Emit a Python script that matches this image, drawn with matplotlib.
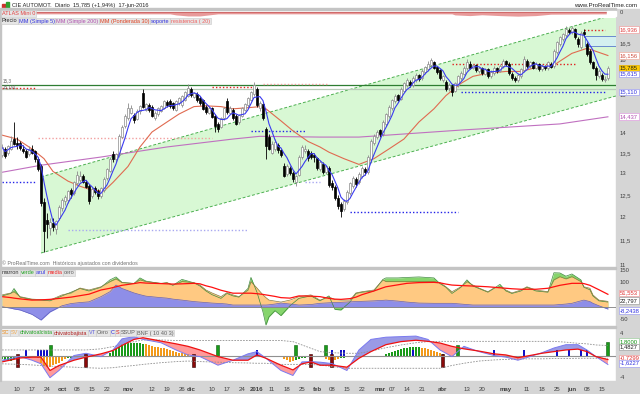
import numpy as np
import pandas as pd
import matplotlib
matplotlib.use('Agg')
import matplotlib.pyplot as plt
from matplotlib.patches import Rectangle
import matplotlib.transforms as mtransforms

plt.rcParams['font.family'] = ['Liberation Sans', 'DejaVu Sans']

# ---------------- data ----------------
holidays = ['2015-12-25', '2016-01-01', '2016-03-25', '2016-03-28']
dates = pd.bdate_range('2015-09-03', '2016-06-17')
dates = dates[~dates.isin(pd.to_datetime(holidays))]

opens = [13.47,13.60,13.50,13.62,13.85,13.76,13.75,13.62,13.56,13.48,13.62,13.55,13.35,13.20,12.35,11.95,11.78,11.88,11.76,12.00,
         12.22,12.38,12.40,12.62,12.56,12.78,12.86,12.96,12.80,12.72,12.48,12.66,12.60,12.48,12.62,12.90,13.08,13.48,13.36,13.45,
         13.92,14.20,14.40,14.55,14.48,14.38,14.58,15.07,14.62,14.75,14.70,14.40,14.50,14.60,14.68,14.84,14.86,14.80,14.62,14.80,
         14.74,14.90,15.00,15.20,14.98,15.05,14.95,14.88,14.70,14.55,14.66,14.45,14.25,14.18,14.40,14.87,14.55,14.62,14.46,14.30,
         14.45,14.62,14.75,14.90,15.05,15.20,14.68,14.78,14.12,13.92,13.52,13.62,13.70,13.58,13.20,13.00,13.15,13.02,12.82,12.98,
         13.40,13.55,13.55,13.50,13.45,13.38,13.12,13.25,13.05,13.15,12.78,12.70,12.45,12.30,12.20,12.35,12.55,12.72,12.88,12.80,
         12.95,13.12,13.05,13.35,13.75,13.90,14.08,14.00,14.25,14.45,14.68,14.85,15.02,14.92,15.15,15.30,15.40,15.30,15.45,15.58,
         15.50,15.68,15.75,15.88,15.95,15.82,15.72,15.45,15.40,15.22,15.28,15.15,15.30,15.50,15.62,15.78,15.92,15.80,15.88,15.70,
         15.78,15.62,15.75,15.55,15.65,15.78,15.70,15.85,15.98,15.92,15.62,15.50,15.45,15.55,15.72,16.00,15.85,15.95,15.80,15.90,
         15.75,15.85,15.78,15.92,15.85,16.25,16.50,16.65,16.78,16.92,16.88,16.95,16.65,16.40,16.88,16.50,16.30,15.95,15.80,15.55,
         15.60,15.45,15.50]
highs = [13.73,13.66,13.72,13.94,14.29,13.90,13.80,13.70,13.62,13.68,13.70,13.58,13.40,13.25,12.45,12.10,11.98,12.00,11.95,12.28,
         12.45,12.50,12.62,12.68,12.84,13.06,13.08,13.00,12.86,12.76,12.70,12.72,12.64,12.70,12.92,13.15,13.40,13.55,13.52,13.98,
         14.22,14.50,14.80,14.75,14.55,14.64,14.76,15.18,14.82,14.80,14.74,14.60,14.70,14.76,14.90,14.90,14.92,14.84,14.88,14.98,
         15.04,15.14,15.32,15.26,15.12,15.10,15.00,14.92,14.76,14.72,14.70,14.50,14.30,14.44,14.70,14.95,14.72,14.66,14.50,14.52,
         14.70,14.82,14.98,15.14,15.38,15.26,14.86,14.82,14.18,13.98,13.80,13.86,13.76,13.62,13.26,13.25,13.20,13.06,12.98,13.45,
         13.70,13.72,13.60,13.55,13.50,13.42,13.34,13.30,13.22,13.20,12.85,12.74,12.50,12.34,12.42,12.62,12.82,12.95,12.92,13.04,
         13.20,13.16,13.45,13.85,14.00,14.10,14.12,14.35,14.55,14.75,14.92,15.05,15.06,15.25,15.40,15.50,15.45,15.55,15.65,15.62,
         15.75,15.86,16.00,16.08,16.00,15.86,15.75,15.60,15.45,15.35,15.32,15.40,15.60,15.70,15.85,16.05,15.98,15.92,15.92,15.82,
         15.82,15.80,15.78,15.72,15.85,15.82,15.90,16.05,16.02,15.95,15.66,15.55,15.65,15.80,16.15,16.05,16.00,15.98,15.96,15.94,
         15.90,15.88,16.00,15.96,16.35,16.60,16.75,16.85,17.05,16.98,17.05,16.98,16.70,16.90,16.95,16.55,16.35,16.00,15.85,15.75,
         15.65,15.55,15.85]
lows = [13.42,13.38,13.45,13.58,13.70,13.62,13.58,13.50,13.38,13.44,13.48,13.30,13.08,12.25,11.27,11.55,11.62,11.70,11.65,11.95,
        12.15,12.28,12.32,12.45,12.50,12.74,12.80,12.78,12.66,12.30,12.44,12.52,12.42,12.45,12.58,12.86,13.05,13.30,13.30,13.42,
        13.88,14.15,14.36,14.50,14.28,14.34,14.52,14.66,14.58,14.56,14.42,14.36,14.45,14.56,14.64,14.70,14.68,14.62,14.58,14.76,
        14.70,14.86,14.96,14.98,14.94,14.84,14.76,14.62,14.52,14.50,14.40,14.05,14.05,14.14,14.36,14.52,14.50,14.36,14.22,14.26,
        14.42,14.58,14.70,14.86,15.00,14.70,14.60,14.36,13.35,13.58,13.48,13.56,13.52,13.42,12.92,12.96,12.98,12.82,12.72,12.95,
        13.36,13.50,13.32,13.36,13.30,13.10,13.08,13.00,13.00,12.70,12.62,12.40,12.20,12.02,12.15,12.30,12.50,12.68,12.70,12.76,
        12.90,12.98,13.00,13.30,13.70,13.85,13.92,13.95,14.20,14.40,14.62,14.80,14.85,14.88,15.10,15.25,15.25,15.26,15.40,15.42,
        15.45,15.62,15.70,15.82,15.75,15.62,15.45,15.40,15.15,15.15,15.00,15.10,15.26,15.45,15.58,15.72,15.75,15.75,15.68,15.65,
        15.60,15.58,15.50,15.50,15.60,15.65,15.66,15.80,15.85,15.60,15.45,15.38,15.40,15.50,15.68,15.80,15.80,15.75,15.75,15.70,
        15.70,15.72,15.74,15.78,15.80,16.20,16.45,16.60,16.72,16.80,16.82,16.65,16.40,16.35,16.72,16.15,15.90,15.75,15.45,15.50,
        15.42,15.40,15.45]
closes = [13.65,13.44,13.68,13.81,13.74,13.70,13.64,13.55,13.42,13.62,13.52,13.35,13.13,12.33,11.70,11.85,11.90,11.80,11.92,12.24,
          12.40,12.46,12.59,12.52,12.80,12.98,12.96,12.82,12.70,12.36,12.65,12.57,12.48,12.66,12.88,13.11,13.36,13.36,13.48,13.95,
          14.18,14.46,14.66,14.68,14.34,14.60,14.72,14.70,14.78,14.62,14.46,14.55,14.66,14.72,14.85,14.74,14.72,14.66,14.85,14.95,
          15.01,15.10,15.22,15.02,15.08,14.88,14.80,14.65,14.56,14.68,14.44,14.20,14.12,14.40,14.66,14.57,14.68,14.40,14.26,14.48,
          14.66,14.78,14.94,15.10,15.30,14.75,14.82,14.40,13.68,13.62,13.74,13.78,13.58,13.46,12.95,13.20,13.02,12.88,12.94,13.40,
          13.65,13.62,13.38,13.42,13.40,13.14,13.28,13.05,13.18,12.75,12.70,12.45,12.25,12.15,12.38,12.58,12.78,12.90,12.76,13.00,
          13.15,13.05,13.40,13.80,13.95,14.05,13.98,14.30,14.50,14.70,14.88,15.00,14.90,15.20,15.35,15.45,15.30,15.50,15.60,15.48,
          15.70,15.82,15.90,16.02,15.80,15.68,15.50,15.55,15.20,15.30,15.10,15.35,15.55,15.65,15.80,15.95,15.80,15.88,15.72,15.78,
          15.65,15.75,15.55,15.68,15.80,15.70,15.85,16.00,15.90,15.65,15.50,15.45,15.60,15.75,16.05,15.85,15.95,15.80,15.92,15.75,
          15.85,15.78,15.95,15.82,16.30,16.55,16.70,16.80,16.95,16.88,16.98,16.70,16.50,16.85,16.80,16.20,15.95,15.80,15.60,15.70,
          15.48,15.485,15.785]

# weighted MA 30 (red) and simple MA 200 (purple)
wma_idx = [0, 5, 10, 14, 17, 22, 26, 30, 34, 37, 42, 46, 50, 55, 59, 64, 68, 73, 77, 82, 86, 88, 93, 97, 102, 106,
           109, 114, 119, 124, 129, 134, 139, 144, 148, 153, 157, 162, 168, 173, 177, 184, 186, 190, 195, 198, 202]
wma_val = [13.96, 13.86, 13.61, 13.37, 13.06, 12.83, 12.71, 12.62, 12.60, 12.80, 13.18, 13.66, 14.04, 14.30, 14.51,
           14.71, 14.73, 14.71, 14.65, 14.68, 14.71, 14.65, 14.33, 14.07, 13.80, 13.66, 13.53, 13.37, 13.23, 13.37,
           13.61, 13.86, 14.30, 14.65, 15.01, 15.35, 15.55, 15.64, 15.69, 15.69, 15.78, 15.87, 15.99, 16.22, 16.37,
           16.28, 16.156]
ma200_idx = [0, 13, 33, 55, 77, 86, 106, 119, 153, 186, 202]
ma200_val = [13.04, 13.21, 13.41, 13.66, 13.86, 13.93, 13.91, 13.91, 14.09, 14.25, 14.437]

# channel (start/end index, price)
chan_x = [13, 204.7]
chan_up = [12.93, 17.43]
chan_lo = [11.245, 15.00]

# support / resistance segments: (start idx, end idx, level)
res_lines = [(0, 11, 15.22, 'r'), (12, 70, 13.88, 'p'), (70, 84, 15.25, 'r'), (87, 109, 15.33, 'p'),
             (150, 191, 15.92, 'r'), (194, 201, 16.936, 'r')]
sup_lines = [(0, 11, 12.80, 'b'), (22, 82, 11.72, 'l'), (83, 101, 14.07, 'b'), (101, 106, 12.80, 'l'),
             (116, 152, 12.13, 'b'), (153, 201, 15.11, 'b')]

# panel 2
p2_idx = [0, 3, 4, 6, 10, 13, 16, 20, 23, 26, 29, 33, 36, 38, 40, 44, 46, 48, 53, 55, 57, 60, 64, 66, 68, 70, 73, 75,
          77, 79, 82, 83, 85, 87, 88, 89, 91, 93, 96, 99, 103, 106, 109, 111, 113, 116, 118, 120, 124, 127, 128, 132,
          135, 139, 144, 146, 148, 150, 153, 155, 157, 159, 162, 164, 166, 168, 170, 173, 175, 178, 182, 184, 186, 188,
          190, 193, 194, 196, 197, 199, 202]
p2_marron = [49, 57, 62, 42, 32, 30, 28, 49, 57, 77, 69, 82, 103, 114, 99, 96, 110, 103, 96, 99, 89, 103, 99, 89, 69,
             57, 42, 58, 49, 42, 69, 103, 77, 49, 38, 28, 24, 20, 28, 42, 49, 28, 41, 30, 28, 28, 57, 62, 69, 110, 103,
             103, 103, 103, 103, 99, 82, 62, 82, 103, 89, 77, 62, 77, 82, 69, 57, 69, 82, 69, 62, 110, 123, 114, 123,
             103, 82, 76, 49, 28, 22.8]
p2_verde = [45, 55, 75, 40, 30, 28, 25, 45, 60, 75, 65, 80, 110, 122, 100, 95, 118, 105, 95, 98, 88, 112, 98, 85, 65,
            50, 35, 55, 45, 40, 75, 120, 60, -20, -73, -40, -15, -35, 5, 35, 45, 25, 45, -10, -12, 20, 55, 60, 65, 112,
            118, 118, 120, 122, 118, 95, 80, 55, 80, 110, 85, 75, 60, 75, 92, 65, 55, 65, 80, 65, 60, 139, 138, 125,
            134, 110, 80, 70, 45, 25, 20]
p2_azul = [1, -5, -8, -12, -30, -53, -20, 5, 14, 18, 21, 42, 62, 89, 75, 57, 50, 44, 38, 36, 32, 28, 22, 20, 18, 16,
           14, 12, 8, 8, 8, 8, 8, 8, 8, 9, 12, 16, 12, 8, 10, 15, 17, 18, 19, 21, 22, 23, 25, 27, 28, 24, 20, 16, 15,
           15, 15, 15, 12, 10, 8, 8, 8, 8, 8, 8, 8, 8, 8, 8, 8, 8, 10, 12, 15, 25, 28, 22, 15, 5, -8.24]
p2_media = [42, 38, 36, 33, 28, 29, 31, 36, 40, 46, 52, 69, 76, 82, 88, 95, 99, 97, 95, 94, 93, 94, 96, 94, 86, 80,
            68, 62, 56, 56, 56, 56, 54, 51, 49, 47, 43, 38, 36, 45, 44, 42, 35, 32, 31, 34, 40, 50, 65, 78, 82, 90, 96,
            99, 100, 98, 93, 89, 87, 86, 85, 84, 82, 80, 78, 76, 74, 72, 72, 72, 76, 82, 88, 92, 96, 96, 95, 88, 82,
            70, 51.55]

# panel 3
p3_idx = [0, 6, 10, 13, 16, 19, 24, 28, 33, 37, 40, 44, 47, 53, 58, 62, 66, 72, 77, 82, 85, 88, 93, 97, 100, 103, 106,
          110, 115, 119, 123, 128, 133, 138, 142, 146, 150, 154, 159, 164, 168, 172, 176, 180, 184, 188, 192, 195,
          198, 202]
p3_red = [-1.15, -0.45, -0.3, -0.3, -2.7, -1.8, -0.85, -0.3, 0.3, 0.9, 1.8, 2.9, 3.2, 2.6, 2.1, 1.65, 1.0, -0.2,
          -0.85, -0.85, 0.1, -0.5, -1.75, -2.6, -1.5, -1.15, -1.75, -1.75, -2.1, -0.5, 0.7, 1.95, 2.5, 2.75, 2.55,
          2.25, 1.65, 1.2, 0.8, 0.3, 0.1, -0.4, 0.0, 0.4, 0.7, 1.0, 1.15, 0.7, -0.2, -0.73]
p3_vt = [-0.85, -0.2, -0.85, -1.5, -4.0, -2.7, 0.0, 0.4, -0.2, 1.0, 3.0, 3.4, 2.9, 2.3, 1.0, 0.1, -0.2, -1.75, -0.85,
         0.3, 0.7, -0.5, -2.7, -3.6, -1.15, -1.1, -1.2, -1.45, -2.7, 1.0, 2.9, 3.3, 3.4, 3.5, 2.9, 1.0, -0.2, 1.65,
         0.7, 0.0, -0.3, -0.85, -0.2, 0.5, 1.35, 1.95, 1.95, 1.0, -0.2, -1.62]
p3_up = [1.0, 1.0, 1.0, 1.0, 1.0, 1.0, 1.0, 1.0, 1.2, 1.6, 2.0, 2.5, 2.8, 2.8, 2.7, 2.7, 2.7, 2.7, 2.7, 2.7, 2.7, 2.7,
         2.7, 2.5, 1.9, 1.3, 0.7, 0.5, 0.4, 0.4, 0.8, 1.4, 1.9, 2.3, 2.5, 2.55, 2.55, 2.55, 2.55, 2.55, 2.55, 2.55,
         2.55, 2.55, 2.55, 2.4, 2.2, 2.1, 1.9, 1.8]
p3_lo = [-1.5, -1.6, -1.7, -1.8, -1.9, -2.0, -2.1, -2.2, -2.3, -2.2, -2.0, -1.8, -1.6, -1.3, -1.1, -1.0, -1.1, -1.2,
         -1.3, -1.35, -1.4, -1.4, -1.6, -1.6, -1.6, -1.65, -1.7, -2.0, -2.3, -2.3, -2.3, -2.3, -2.3, -2.3, -2.3, -2.3,
         -1.8, -1.4, -1.0, -0.8, -0.7, -0.65, -0.6, -0.6, -0.55, -0.55, -0.5, -0.5, -0.5, -0.5]
hist_idx = [0, 1, 2, 3, 4, 12, 13, 14, 15, 16, 17, 18, 19, 20, 21, 22, 23,
            36, 37, 38, 39, 40, 41, 42, 43, 44, 45, 46, 47, 48, 49, 50, 51, 52, 53, 54, 55, 56, 57, 58, 59, 60, 61, 62,
            93, 94, 95, 96, 97, 98, 99, 100, 101, 102, 107, 108, 109, 110, 111, 112, 113, 114, 115,
            128, 129, 130, 131, 132, 133, 134, 135, 136, 137, 138, 139, 140, 141, 142, 143, 144, 145, 146, 147]
hist_val = [-0.6, -0.9, -0.8, -1.0, -0.7, -0.5, -1.3, -1.9, -2.1, -2.0, -1.8, -1.6, -1.3, -1.0, -0.7, -0.5, -0.4,
            0.4, 0.8, 1.2, 1.6, 1.9, 2.1, 2.2, 2.3, 2.3, 2.2, 2.3, 2.0, 2.0, 1.9, 1.8, 1.6, 1.5, 1.4, 1.3, 1.1, 1.0,
            0.8, 0.7, 0.5, 0.4, 0.3, 0.2,
            -0.3, -0.6, -0.9, -1.1, -1.0, -0.8, -0.6, -0.5, -0.4, -0.3, -0.3, -0.6, -0.8, -0.9, -0.9, -0.7, -0.5, -0.4,
            -0.3, 0.2, 0.4, 0.6, 0.8, 1.0, 1.2, 1.3, 1.4, 1.5, 1.5, 1.5, 1.5, 1.4, 1.3, 1.2, 1.0, 0.9, 0.7, 0.5, 0.3]
hist_col = 'gggggooooooooooggggggggggggggoooooooooooooooooooogggggoooooogggggggggggggggooooooo'
bear_idx = [5, 28, 64, 103, 110, 147]
bull_idx = [16, 72, 98, 108, 152, 202]
bull_h = [1.9, 1.9, 1.9, 1.9, 1.9, 2.5]
cbar_idx = [8, 12, 13, 14, 15, 85, 110, 113, 114, 137, 164, 174, 185, 189, 193, 195]

# atlas strip
atl_idx = [10, 56, 58, 62, 66, 70, 72, 150, 151, 156, 160, 166, 172, 178, 183, 202]
atl_val = [0.45, 0.45, 0.3, 0.15, 0.15, 0.35, 0.45, 0.45, 0.3, 0.2, 0.32, 0.2, 0.12, 0.2, 0.4, 0.45]

tick_dates = ['2015-09-10', '2015-09-17', '2015-09-24', '2015-10-01', '2015-10-08', '2015-10-15', '2015-10-22',
              '2015-11-02', '2015-11-12', '2015-11-19', '2015-11-26', '2015-12-01', '2015-12-10', '2015-12-17',
              '2015-12-24', '2016-01-04', '2016-01-11', '2016-01-18', '2016-01-25', '2016-02-01', '2016-02-08',
              '2016-02-15', '2016-02-22', '2016-03-01', '2016-03-07', '2016-03-14', '2016-03-21', '2016-04-01',
              '2016-04-13', '2016-04-20', '2016-05-02', '2016-05-11', '2016-05-18', '2016-05-25', '2016-06-01',
              '2016-06-08', '2016-06-15']
tick_labels = ['10', '17', '24', 'oct', '08', '15', '22', 'nov', '12', '19', '26', 'dic', '10', '17', '24', '2016',
               '11', '18', '25', 'feb', '08', '15', '22', 'mar', '07', '14', '21', 'abr', '13', '20', 'may', '11',
               '18', '25', 'jun', '08', '15']
bold_labels = {'oct', 'nov', 'dic', '2016', 'feb', 'mar', 'abr', 'may', 'jun'}

# ---------------- figure ----------------
W, H = 640, 394
fig = plt.figure(figsize=(W / 100, H / 100), dpi=100)
FS = 4.2
GRAY = '#d5d5d5'
TXT = '#404040'
n = min(len(dates), len(closes))
x = np.arange(n)
o = np.array(opens[:n]); h = np.array(highs[:n]); l = np.array(lows[:n]); c = np.array(closes[:n])
XL = (-0.67, 204.7)


def add_ax(top, bot, left=0, right=616):
    return fig.add_axes([left / W, 1 - bot / H, (right - left) / W, (bot - top) / H])


# background bands (behind axes)
fig.patches.append(Rectangle((616 / W, 0), 24 / W, 1 - 9 / H, transform=fig.transFigure, color=GRAY, zorder=-2))
fig.patches.append(Rectangle((0, 0), 1, 13 / H, transform=fig.transFigure, color=GRAY, zorder=-2))
for yy in (9, 268, 327):
    fig.patches.append(Rectangle((0, 1 - (yy + 1) / H), 616 / W, 2 / H, transform=fig.transFigure,
                                 color='#c4c4c4', zorder=5))
fig.patches.append(Rectangle((0, 13 / H), 1 / W, 1 - 23 / H, transform=fig.transFigure, color='#c4c4c4', zorder=5))

# title bar
fig.text(12 / W, 1 - 5.5 / H, 'CIE AUTOMOT.  Diario  15,785 (+1,94%)  17-jun-2016', fontsize=FS - 0.1,
         va='center', ha='left', color='#202020')
fig.text(637 / W, 1 - 5.5 / H, 'www.ProRealTime.com', fontsize=FS + 0.2, va='center', ha='right', color='#202020')
fig.patches.append(Rectangle((2 / W, 1 - 8 / H), 3 / W, 4 / H, transform=fig.transFigure, color='#d03030'))
fig.patches.append(Rectangle((6 / W, 1 - 8 / H), 3 / W, 6 / H, transform=fig.transFigure, color='#30a030'))


def clean(ax):
    ax.set_xlim(*XL)
    for s in ax.spines.values():
        s.set_visible(False)
    ax.set_xticks([])
    ax.set_yticks([])
    ax.patch.set_alpha(0)


def rlabel(ax, val, s, color=TXT, fc=None, ec=None):
    tr = mtransforms.blended_transform_factory(ax.transAxes, ax.transData)
    kw = {}
    if fc is not None:
        kw['bbox'] = dict(boxstyle='square,pad=0.15', fc=fc, ec=ec if ec else fc, lw=0.5)
    ax.text(1.0 + 4 / 616, val, s, transform=tr, fontsize=FS, color=color, va='center', ha='left',
            clip_on=False, zorder=30, **kw)


def legend_row(items, y_px):
    fig.canvas.draw()
    r = fig.canvas.get_renderer()
    xpos = 1.5
    for txt, col in items:
        t = fig.text(xpos / W, 1 - y_px / H, txt, fontsize=FS - 0.2, color=col, va='center', ha='left',
                     bbox=dict(boxstyle='square,pad=0.12', fc='#e6e6e6', ec='#c8c8c8', lw=0.4), zorder=20)
        bb = t.get_window_extent(renderer=r)
        xpos += bb.width + 1.5


# ---- ATLAS strip ----
axa = add_ax(10, 17)
clean(axa)
axa.set_ylim(0, 1)
axa.fill_between(atl_idx, atl_val, 0.75, color='#e89a9a', lw=0)
axa.plot(atl_idx, [0.75] * len(atl_idx), color='#d06a6a', lw=0.8)
fig.text(1.5 / W, 1 - 13.5 / H, 'ATLAS Mini 0', fontsize=FS - 0.2, color='#e04040', va='center', ha='left',
         bbox=dict(boxstyle='square,pad=0.12', fc='#e6e6e6', ec='#c8c8c8', lw=0.4), zorder=20)
fig.patches.append(Rectangle((607 / W, 1 - 15.5 / H), 9 / W, 5 / H, transform=fig.transFigure, color='white',
                             zorder=6))
fig.text(620 / W, 1 - 12.5 / H, '0', fontsize=FS, color=TXT, va='center', ha='left')

# ---- main price panel ----
B = 545.0
ax = add_ax(17.5, 267)
clean(ax)
ax.set_yscale('log')
ax.set_ylim(11 * np.exp((265 - 267) / B), 11 * np.exp((265 - 17.5) / B))
ax.minorticks_off()
ax.set_yticks([])

ax.fill([chan_x[0], chan_x[1], chan_x[1], chan_x[0]], [chan_up[0], chan_up[1], chan_lo[1], chan_lo[0]],
        color='#d8f8d4', lw=0, zorder=1)
ax.plot(chan_x, chan_up, color='#4caf50', lw=0.7, ls=(0, (3, 2)), zorder=2)
ax.plot(chan_x, chan_lo, color='#4caf50', lw=0.7, ls=(0, (3, 2)), zorder=2)

ax.axhline(15.3, color='#2e7d32', lw=0.9, zorder=2)
ax.axhline(15.191, color='#b8ccb8', lw=0.9, zorder=2)
rc = {'r': '#e02020', 'p': '#f2a0a0', 'b': '#2222e8', 'l': '#a8a8f0'}
for s0, s1, v, k in res_lines + sup_lines:
    ax.plot([s0, s1], [v, v], color=rc[k], lw=1.0, ls=(0, (1, 1.5)), zorder=3)

ax.add_patch(Rectangle((194.3, 16.44), 204.7 - 194.3, 16.73 - 16.44, fc='#d4f0f0', ec='#6a8ad0', lw=0.7, zorder=3))

ma5 = pd.Series(c).rolling(5, min_periods=1).mean().values
ax.plot(ma200_idx, ma200_val, color='#c070c0', lw=0.8, zorder=4)
ax.plot(wma_idx, wma_val, color='#e06a50', lw=0.8, zorder=4)

up = c >= o
ax.vlines(x, l, h, color=np.where(up, '#8a8a8a', '#000000'), lw=0.6, zorder=5)
body_lo = np.minimum(o, c)
body_h = np.maximum(np.abs(c - o), 0.01)
ax.bar(x[up], body_h[up], bottom=body_lo[up], width=0.7, color='white', edgecolor='#8a8a8a', lw=0.5, zorder=6)
ax.bar(x[~up], body_h[~up], bottom=body_lo[~up], width=0.7, color='black', edgecolor='black', lw=0.5, zorder=6)
ax.plot(x, ma5, color='#3a3af0', lw=0.8, zorder=7)

for v, s in [(11, '11'), (11.5, '11,5'), (12, '12'), (12.5, '12,5'), (13, '13'), (13.5, '13,5'), (14, '14'),
             (15, '15'), (16, '16'), (16.5, '16,5')]:
    rlabel(ax, v, s)
rlabel(ax, 16.936, '16,936', '#e04040', 'white', '#f0a0a0')
rlabel(ax, 16.156, '16,156', '#d05040', 'white', '#f0b0a0')
rlabel(ax, 15.785, '15,785', '#202020', '#ffcc00', '#e0b000')
rlabel(ax, 15.615, '15,615', '#3030e0', 'white', '#a0a0f0')
rlabel(ax, 15.110, '15,110', '#3030e0', 'white', '#a0a0f0')
rlabel(ax, 14.437, '14,437', '#b050b0', 'white', '#e0a0e0')
btr = mtransforms.blended_transform_factory(ax.transAxes, ax.transData)
ax.text(0.004, 15.42, '15,3', transform=btr, fontsize=FS - 0.9, color='#606060', va='center')
ax.text(0.004, 15.26, '15,191', transform=btr, fontsize=FS - 0.9, color='#606060', va='center')
ax.text(0.004, 0.004, '\u00a9 ProRealTime.com  Hist\u00f3ricos ajustados con dividendos', transform=ax.transAxes,
        fontsize=FS - 0.4, color='#707070', va='bottom')

# ---- panel 2 ----
PX2 = 0.2465
Z2 = 307
ax2 = add_ax(269.5, 326)
clean(ax2)
ax2.set_ylim((Z2 - 326) / PX2, (Z2 - 269.5) / PX2)
ax2.fill_between(p2_idx, 0, p2_verde, color='#86d56c', lw=0)
ax2.plot(p2_idx, p2_verde, color='#3d8a3d', lw=0.5)
ax2.fill_between(p2_idx, 0, p2_marron, color='#ffc982', lw=0)
ax2.plot(p2_idx, p2_marron, color='#8a7a3a', lw=0.5)
ax2.fill_between(p2_idx, 0, p2_azul, color='#8e8ee8', lw=0)
ax2.plot(p2_idx, p2_azul, color='#6060c0', lw=0.5)
ax2.axhline(0, color='#808080', lw=0.6)
ax2.plot(p2_idx, p2_media, color='#ff1010', lw=0.9)
for v, s in [(150, '150'), (100, '100'), (-50, '-50')]:
    rlabel(ax2, v, s)
rlabel(ax2, 57, '51,553', '#e03030', 'white', '#f0a0a0')
rlabel(ax2, 26, '22,797', '#202020', 'white', '#a0a0a0')
rlabel(ax2, -15, '-8,2438', '#3030e0', 'white', '#a0a0f0')

# ---- panel 3 ----
PX3 = 5.55
Z3 = 355.5
ax3 = add_ax(328.5, 381)
ax3.set_xlim(*XL)
for s in ax3.spines.values():
    s.set_visible(False)
ax3.patch.set_alpha(0)
ax3.set_yticks([])
ax3.set_ylim((Z3 - 381) / PX3, (Z3 - 328.5) / PX3)
red3 = np.array(p3_red); vt3 = np.array(p3_vt)
ax3.fill_between(p3_idx, red3, vt3, where=vt3 >= red3, interpolate=True, color='#9a9ae6', lw=0)
ax3.fill_between(p3_idx, red3, vt3, where=vt3 < red3, interpolate=True, color='#ff9a9a', lw=0)
ax3.axhline(0, color='#909090', lw=0.8)
hc = {'g': '#1a9a1a', 'o': '#f39a1a'}
ax3.bar(hist_idx, hist_val, width=0.6, color=[hc[k] for k in hist_col], lw=0)
ax3.bar(cbar_idx, [1.05] * len(cbar_idx), width=0.8, color='#1010c8', lw=0)
ax3.bar(bull_idx, bull_h, width=1.0, color='#1a9a1a', edgecolor='#0a5a0a', lw=0.4)
ax3.bar(bear_idx, [2.3] * len(bear_idx), bottom=-2.1, width=1.0, color='#8b0a0a', edgecolor='#300000', lw=0.4)
ax3.plot(p3_idx, p3_up, color='#909090', lw=0.6, ls=(0, (2, 1.5)))
ax3.plot(p3_idx, p3_lo, color='#909090', lw=0.6, ls=(0, (2, 1.5)))
ax3.plot(p3_idx, vt3, color='#7a7af0', lw=0.7)
ax3.plot(p3_idx, red3, color='#ee1010', lw=0.9)
rlabel(ax3, 4, '4')
rlabel(ax3, -4, '-4')
rlabel(ax3, 2.55, '1,8000', '#109010', 'white', '#a0d0a0')
rlabel(ax3, 1.55, '1,4827', '#202020', 'white', '#a0a0a0')
rlabel(ax3, -0.45, '-0,7299', '#e03030', 'white', '#f0a0a0')
rlabel(ax3, -1.4, '-1,6227', '#3030e0', 'white', '#a0a0f0')

date_pos = {d: i for i, d in enumerate(dates[:n])}
tpos = [date_pos[pd.Timestamp(d)] for d in tick_dates]
ax3.set_xticks(tpos)
ax3.set_xticklabels(tick_labels, fontsize=FS + 0.2, color=TXT)
ax3.tick_params(axis='x', length=0, pad=4)
for t in ax3.get_xticklabels():
    if t.get_text() in bold_labels:
        t.set_fontweight('bold')

legend_row([('Precio', '#202020'), ('MM (Simple 5)', '#3030e0'), ('MM (Simple 200)', '#b050b0'),
            ('MM (Ponderada 30)', '#e04020'), ('soporte', '#3030e0'), ('resistencia ( 20)', '#f06060')], 21)
legend_row([('marron', '#303030'), ('verde', '#20a020'), ('azul', '#3030e0'), ('media', '#f02020'),
            ('cero', '#606060')], 273)
legend_row([('SC', '#f09020'), ('SV', '#f0b060'), ('chivatoalcista', '#20a020'),
            ('chivatobajista', '#b02020'), ('VT', '#6060e0'), ('Cero', '#606060'), ('C', '#2020e0'),
            ('S', '#e02020'), ('SSUP', '#606060'), ('BNF ( 10 40 3)', '#606060')], 333)

fig.savefig('out.png', dpi=100)
